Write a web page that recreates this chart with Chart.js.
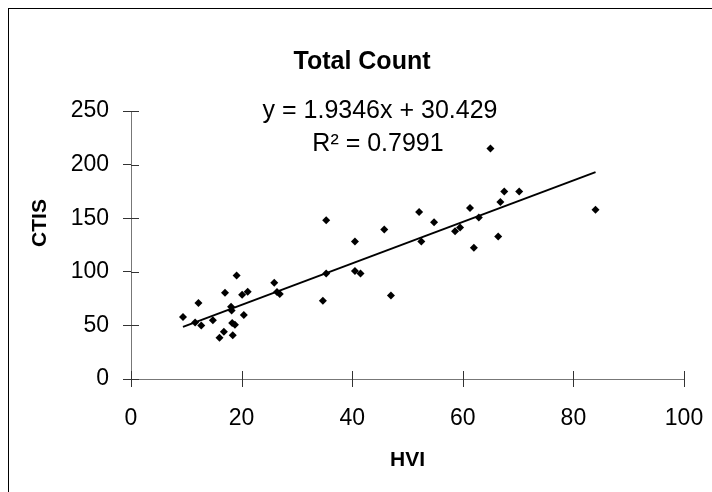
<!DOCTYPE html>
<html>
<head>
<meta charset="utf-8">
<script src="https://cdn.jsdelivr.net/npm/chart.js@4/dist/chart.umd.min.js"></script>
<style>
  html, body { margin: 0; padding: 0; background: #fff; }
  #wrap { width: 712px; height: 492px; }
</style>
</head>
<body>
<div id="wrap"><canvas id="chart"></canvas></div>
<script>
// HVI vs CTIS
var hvi = [9.4, 11.6, 12.2, 12.7, 14.8, 16.0, 16.8, 17.0, 18.1, 18.2, 18.3, 18.4, 18.8, 19.1,
    20.1, 20.4, 21.1, 25.9, 26.4, 26.9, 34.7, 35.3, 35.3, 40.5, 40.5, 41.5, 45.8, 47.0,
    52.1, 52.5, 54.8, 58.6, 59.5, 61.3, 62.0, 62.9, 65.0, 66.4, 66.8, 67.5, 70.2, 84.0];
var ctis = [57.8, 52.8, 70.8, 50.0, 54.7, 38.5, 44.1, 80.4, 67.4, 64.0, 52.3, 40.7, 50.6, 96.6,
    78.6, 59.6, 81.4, 89.8, 81.1, 79.2, 73.0, 98.5, 148.2, 128.3, 100.7, 98.5, 139.5, 78.0,
    155.9, 128.3, 146.3, 137.9, 141.4, 159.6, 122.4, 150.7, 215.0, 133.0, 165.2, 174.9, 174.9, 157.8];

var slope = 1.9346;
var intercept = 30.429;
var rSquared = 0.7991;

var xTicks = [0, 20, 40, 60, 80, 100];
var yTicks = [0, 50, 100, 150, 200, 250];

var points = hvi.map(function(x, i) { return {x: x, y: ctis[i]}; });
var xMin = Math.min.apply(null, hvi);
var xMax = Math.max.apply(null, hvi);
var trend = [xMin, xMax].map(function(x) { return {x: x, y: slope * x + intercept}; });

var FONT = "'Liberation Sans', Arial, sans-serif";

// frame, title, y title, cross ticks, trendline label
var extras = {
    id: 'extras',
    afterDraw: function(chart) {
        var ctx = chart.ctx;
        var xs = chart.scales.x, ys = chart.scales.y;
        ctx.save();
        ctx.strokeStyle = '#000';
        ctx.lineWidth = 1;
        ctx.strokeRect(8.5, 8.5, 760, 560);

        ctx.strokeStyle = '#333';
        xTicks.forEach(function(v) {
            var px = Math.round(xs.getPixelForValue(v)) + 0.5;
            ctx.beginPath();
            ctx.moveTo(px, ys.bottom + 8);
            ctx.lineTo(px, ys.bottom - 8);
            ctx.stroke();
        });
        yTicks.forEach(function(v) {
            var py = Math.round(ys.getPixelForValue(v)) + 0.5;
            ctx.beginPath();
            ctx.moveTo(xs.left, py);
            ctx.lineTo(xs.left + 8, py);
            ctx.stroke();
        });

        ctx.fillStyle = '#000';
        ctx.textAlign = 'center';
        ctx.textBaseline = 'middle';
        ctx.font = 'bold 25px ' + FONT;
        ctx.fillText('Total Count', 362, 62);

        ctx.font = '25px ' + FONT;
        ctx.fillText('y = ' + slope + 'x + ' + intercept, 380, 111);
        ctx.fillText('R\u00b2 = ' + rSquared, 378, 144);

        ctx.translate(40, 223);
        ctx.rotate(-Math.PI / 2);
        ctx.font = 'bold 21px ' + FONT;
        ctx.fillText('CTIS', 0, 0);
        ctx.restore();
    }
};

var ctx = document.getElementById('chart').getContext('2d');
var chart = new Chart(ctx, {
    type: 'scatter',
    data: {
        datasets: [{
            data: points,
            pointStyle: 'rectRot',
            pointRadius: 4,
            pointHoverRadius: 4,
            backgroundColor: '#000',
            borderColor: '#000',
            borderWidth: 0
        }, {
            type: 'line',
            data: trend,
            borderColor: '#000',
            borderWidth: 2,
            pointRadius: 0,
            fill: false
        }]
    },
    options: {
        responsive: true,
        maintainAspectRatio: false,
        animation: false,
        events: [],
        layout: {
            padding: { left: 0, right: 28, top: 111, bottom: 0 }
        },
        plugins: {
            legend: { display: false },
            tooltip: { enabled: false },
            title: { display: false }
        },
        scales: {
            x: {
                type: 'linear',
                min: 0,
                max: 100,
                afterBuildTicks: function(scale) {
                    scale.ticks = xTicks.map(function(v) { return {value: v}; });
                },
                afterFit: function(scale) { scale.height = 113; },
                // long invisible tick keeps labels low; the marks are drawn in extras
                grid: { drawOnChartArea: false, tickLength: 26, tickColor: 'rgba(0,0,0,0)' },
                border: { color: '#777', width: 1 },
                ticks: { color: '#000', padding: 0, font: { family: FONT, size: 23 } },
                title: {
                    display: true,
                    text: 'HVI',
                    color: '#000',
                    font: { family: FONT, size: 21, weight: 'bold' },
                    padding: { top: 0, bottom: 19 }
                }
            },
            y: {
                type: 'linear',
                min: 0,
                max: 250,
                afterBuildTicks: function(scale) {
                    scale.ticks = yTicks.map(function(v) { return {value: v}; });
                },
                afterFit: function(scale) { scale.width = 131; },
                grid: { drawOnChartArea: false, tickLength: 8, color: '#333' },
                border: { color: '#777', width: 1 },
                ticks: { color: '#000', padding: 14, font: { family: FONT, size: 23 } },
                title: { display: false }
            }
        }
    },
    plugins: [extras]
});
</script>
</body>
</html>
